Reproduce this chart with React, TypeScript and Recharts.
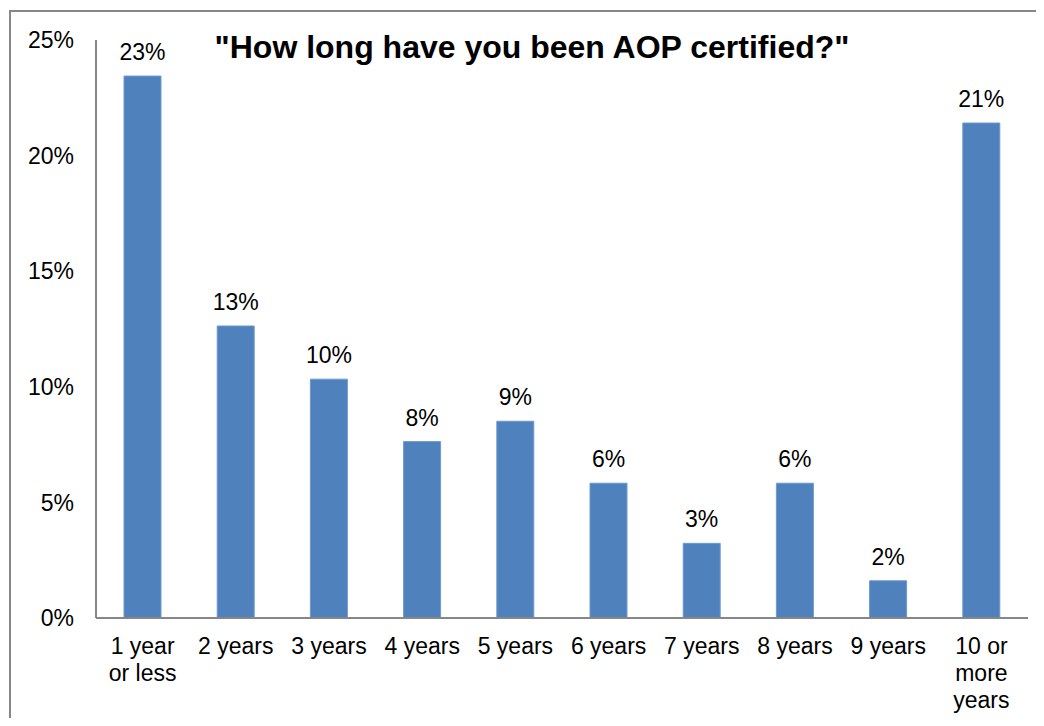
import React from "react";
import { BarChart, Bar, XAxis, YAxis, LabelList } from "recharts";

// survey answers, share of respondents in percent
const categories = [
  "1 year\nor less",
  "2 years",
  "3 years",
  "4 years",
  "5 years",
  "6 years",
  "7 years",
  "8 years",
  "9 years",
  "10 or\nmore\nyears",
];
const shares = [23.44, 12.63, 10.33, 7.63, 8.51, 5.83, 3.23, 5.83, 1.61, 21.41];
const yTicks = [0, 5, 10, 15, 20, 25];
const title = '"How long have you been AOP certified?"';

const data = categories.map((name, i) => ({ name, value: shares[i] }));

const FONT = "'Liberation Sans', Arial, sans-serif";

function CategoryTick(props: any) {
  const { x, y, payload } = props;
  const lines = String(payload.value).split("\n");
  return (
    <text x={x} y={y} textAnchor="middle" fill="#000" fontSize={23} fontFamily={FONT}>
      {lines.map((line, i) => (
        <tspan key={i} x={x} dy={i === 0 ? 36 : 27}>
          {line}
        </tspan>
      ))}
    </text>
  );
}

export default function App() {
  return (
    <div style={{ position: "relative", width: 1044, height: 726, overflow: "hidden", margin: -8, background: "#fff" }}>
      <div
        style={{
          position: "absolute",
          left: 9,
          top: 10,
          width: 1100,
          height: 800,
          border: "2px solid #878787",
        }}
      />
      <BarChart
        width={1044}
        height={726}
        data={data}
        margin={{ top: 40, right: 16, bottom: 0, left: 10 }}
        barCategoryGap={0}
        style={{ position: "absolute", left: 0, top: 0 }}
      >
        <XAxis
          dataKey="name"
          axisLine={{ stroke: "#878787", strokeWidth: 2 }}
          tickLine={false}
          tickSize={0}
          tickMargin={0}
          interval={0}
          tick={<CategoryTick />}
          height={108}
        />
        <YAxis
          width={86}
          domain={[0, 25]}
          ticks={yTicks}
          tickFormatter={(v: number) => `${v}%`}
          axisLine={{ stroke: "#878787", strokeWidth: 2 }}
          tickLine={false}
          tickSize={0}
          tickMargin={22}
          tick={{ fill: "#000", fontSize: 23, fontFamily: FONT }}
        />
        <Bar dataKey="value" fill="#4F81BD" stroke="#6E9AD0" strokeWidth={1} barSize={37} isAnimationActive={false}>
          <LabelList
            dataKey="value"
            position="top"
            offset={16}
            formatter={(v: any) => `${Math.round(Number(v))}%`}
            style={{ fill: "#000", fontSize: 23, fontFamily: FONT }}
          />
        </Bar>
      </BarChart>
      <svg width={1044} height={726} style={{ position: "absolute", left: 0, top: 0, pointerEvents: "none" }}>
        <text x={532} y={58} textAnchor="middle" fontSize={32} fontWeight="bold" fontFamily={FONT} fill="#000">
          {title}
        </text>
      </svg>
    </div>
  );
}
